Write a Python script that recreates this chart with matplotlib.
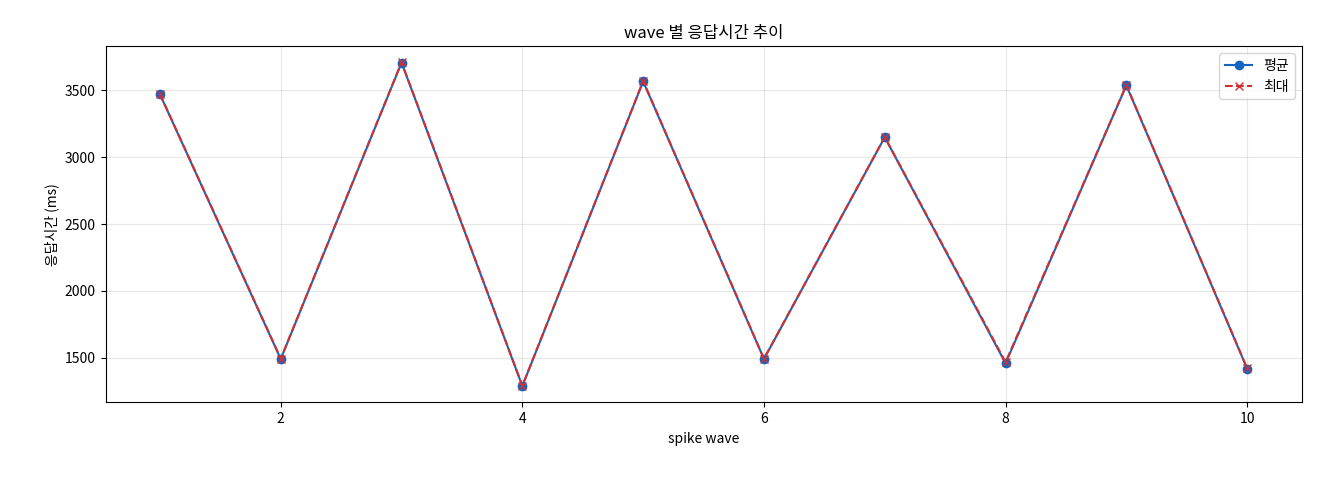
import numpy as np
import matplotlib
matplotlib.use("Agg")
import matplotlib.pyplot as plt

plt.rcParams['font.family'] = ['Noto Sans CJK KR', 'DejaVu Sans']

waves = [1, 2, 3, 4, 5, 6, 7, 8, 9, 10]
avg_ms = [3468, 1492, 3705, 1290, 3565, 1492, 3148, 1460, 3535, 1420]
max_ms = [3470, 1495, 3708, 1292, 3568, 1494, 3150, 1468, 3538, 1422]

fig, ax = plt.subplots(figsize=(13.2, 4.8), dpi=100)
ax.plot(waves, avg_ms, '-o', color='#1565c0', markersize=6, label='평균')
ax.plot(waves, max_ms, '--x', color='#d32f2f', markersize=6, label='최대')
ax.set_title('wave 별 응답시간 추이')
ax.set_xlabel('spike wave')
ax.set_ylabel('응답시간 (ms)')
ax.grid(True, alpha=0.3)
ax.legend(loc='upper right')
fig.subplots_adjust(left=0.08, right=0.986, top=0.904, bottom=0.162)
fig.savefig('out.png')
